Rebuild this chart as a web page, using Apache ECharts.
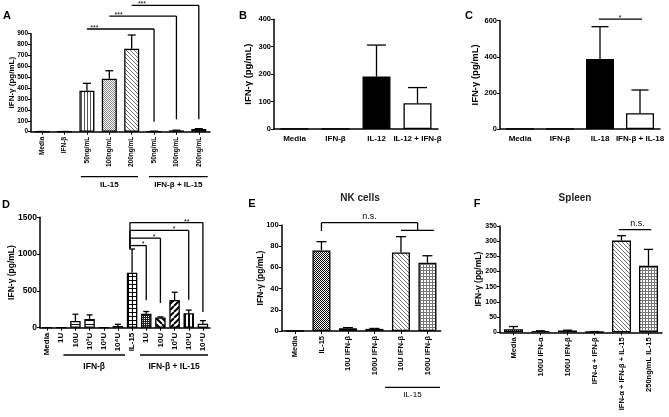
<!DOCTYPE html>
<html>
<head>
<meta charset="UTF-8">
<title>IFN-γ panels</title>
<script src="https://cdn.jsdelivr.net/npm/echarts@6/dist/echarts.min.js"></script>
<style>
  html, body { margin: 0; padding: 0; background: #fff; }
  #main { width: 669px; height: 417px; }
</style>
</head>
<body>
<div id="main"></div>
<script>
// ---- data ----
const catsA = ['Media', 'IFN-β', '50ng/mL', '100ng/mL', '200ng/mL', '50ng/mL', '100ng/mL', '200ng/mL'];
const meanA = [1, 1, 376, 487, 762, 3, 12, 24];
const errA  = [2, 2, 444, 560, 888, 5, 14, 28];
const sigA  = [[2, 5, 943, null, 92, '***', 2.33], [3, 6, 1062, null, 114, '***', 3.42], [4, 7, 1161, null, 114, '***', 4.46]];
const grpA  = [[1.73, 4.28, 'IL-15'], [4.77, 7.4, 'IFN-β + IL-15']];

const catsB = ['Media', 'IFN-β', 'IL-12', 'IL-12 + IFN-β'];
const meanB = [0, 0, 191, 94];
const errB  = [0, 0, 306, 151];

const catsC = ['Media', 'IFN-β', 'IL-18', 'IFN-β + IL-18'];
const meanC = [0, 0, 388, 87];
const errC  = [0, 0, 567, 216];
const sigC  = [[1.97, 3.05, 609, null, null, '*', 2.5]];

const catsD = ['Media', '1U', '10U', '10²U', '10³U', '10⁴U', 'IL-15', '1U', '10U', '10²U', '10³U', '10⁴U'];
const meanD = [0, 0, 92, 119, 0, 23, 748, 188, 138, 376, 197, 55];
const errD  = [0, 0, 183, 174, 0, 46, 1069, 220, 147, 482, 239, 96];
const sigD  = [[5.85, 11, 1428, 1080, 212, '**', 9.85], [5.85, 10, 1322, 1080, 381, '*', 8.96],
               [5.85, 8, 1217, 1080, 336, '*', 7.55], [5.85, 7, 1116, 1080, 372, '*', 6.77]];
const grpD  = [[1.15, 5.5, 'IFN-β'], [6.56, 11.36, 'IFN-β + IL-15']];

const catsE = ['Media', 'IL-15', '10U IFN-β', '100U IFN-β', '10U IFN-β', '100U IFN-β'];
const meanE = [0, 76, 2.5, 2, 74, 64.5];
const errE  = [0, 84.3, 3.2, 2.4, 89, 71];
const sigE  = [[1, 4.63, 102.2, 94.3, 95, 'n.s.', 2.81], [4, 5.25, 95, null, null, '', 0]];
const grpE  = [[3.4, 5.47, 'IL-15']];

const catsF = ['Media', '100U IFN-α', '100U IFN-β', 'IFN-α + IFN-β', 'IFN-α + IFN-β + IL-15', '250ng/mL IL-15'];
const meanF = [10, 4, 6, 2, 302, 219];
const errF  = [19, 5, 7, 2.5, 318, 273];
const sigF  = [[3.9, 5.1, 338, null, null, 'n.s.', 4.59]];

// ---- fills (patterns) ----
function pat(kind) {
  const sizes = { vline: 3, vbold: 4, hline: 4, diag: 4, dbold: 6, dboldR: 6, grid: 4, fgrid: 3, checker: 2, gchecker: 2, dots: 2 };
  const s = sizes[kind];
  const c = document.createElement('canvas');
  c.width = c.height = s;
  const g = c.getContext('2d');
  g.fillStyle = '#fff';
  g.fillRect(0, 0, s, s);
  g.fillStyle = '#000';
  g.strokeStyle = '#000';
  const diag = (w, col, up) => {
    g.strokeStyle = col; g.lineWidth = w; g.beginPath();
    for (let k = -1; k <= 1; k++) {
      if (up) { g.moveTo(k * s, s); g.lineTo(k * s + s, 0); }
      else { g.moveTo(k * s, 0); g.lineTo(k * s + s, s); }
    }
    g.stroke();
  };
  switch (kind) {
    case 'vline': g.fillStyle = '#555'; g.fillRect(0, 0, 1, s); break;
    case 'vbold': g.fillRect(0, 0, 2, s); break;
    case 'hline': g.fillRect(0, 0, s, 1); break;
    case 'diag': diag(1, '#777', false); break;
    case 'dbold': diag(2, '#000', false); break;
    case 'dboldR': diag(2, '#000', true); break;
    case 'grid': g.fillRect(0, 0, s, 1); g.fillRect(0, 0, 1, s); break;
    case 'fgrid': g.fillStyle = '#777'; g.fillRect(0, 0, s, 1); g.fillRect(0, 0, 1, s); break;
    case 'checker': g.fillRect(0, 0, 1, 1); g.fillRect(1, 1, 1, 1); break;
    case 'gchecker': g.fillStyle = '#888'; g.fillRect(0, 0, 1, 1); g.fillRect(1, 1, 1, 1); break;
    case 'dots': g.fillStyle = '#222'; g.fillRect(0, 0, s, s); g.fillStyle = '#fff'; g.fillRect(0, 0, 1, 1); break;
  }
  return { image: c, repeat: 'repeat' };
}
const W = '#fff', K = '#000';
const fillA = [W, W, pat('vline'), pat('gchecker'), pat('diag'), pat('diag'), pat('diag'), pat('diag')];
const fillB = [W, W, K, W];
const fillC = [W, W, K, W];
const fillD = [W, W, pat('hline'), pat('hline'), W, pat('hline'), pat('grid'), pat('dots'), pat('dbold'), pat('dboldR'), pat('vbold'), pat('hline')];
const fillE = [W, pat('checker'), pat('dots'), pat('dots'), pat('diag'), pat('fgrid')];
const fillF = [pat('checker'), pat('hline'), pat('dots'), pat('hline'), pat('diag'), pat('fgrid')];

// ---- layout / style ----
const FONT = '"Liberation Sans", Arial, sans-serif';
const panels = [
  { grid: { left: 31, top: 33.7, width: 179, height: 98 }, cats: catsA, mean: meanA, err: errA, fill: fillA, max: 900, interval: 100,
    rot: 90, ticks: true, tickFs: 6.5, labFs: 6.5, nameFs: 8, nameGap: 15, barW: 15, capW: 8, sig: sigA, grp: grpA, lineOff: 45, textOff: 53, grpFs: 8 },
  { grid: { left: 274, top: 19.3, width: 164, height: 109.7 }, cats: catsB, mean: meanB, err: errB, fill: fillB, max: 400, interval: 100,
    rot: 0, ticks: false, tickFs: 7.5, labFs: 8, nameFs: 9.5, nameGap: 21, barW: 28, capW: 19, sig: [], grp: [] },
  { grid: { left: 500, top: 20.7, width: 160, height: 108.3 }, cats: catsC, mean: meanC, err: errC, fill: fillC, max: 600, interval: 200,
    rot: 0, ticks: false, tickFs: 7.5, labFs: 8, nameFs: 9.5, nameGap: 20, barW: 28, capW: 17, sig: sigC, grp: [] },
  { grid: { left: 40, top: 217.3, width: 170, height: 110.4 }, cats: catsD, mean: meanD, err: errD, fill: fillD, max: 1500, interval: 500,
    rot: 90, ticks: true, tickFs: 8.5, labFs: 8, nameFs: 8.5, nameGap: 24, barW: 10.5, capW: 6, sig: sigD, grp: grpD, lineOff: 27.3, textOff: 38.5, grpFs: 8.5 },
  { grid: { left: 281.7, top: 225, width: 159, height: 106 }, cats: catsE, mean: meanE, err: errE, fill: fillE, max: 100, interval: 20,
    rot: 90, ticks: true, tickFs: 7.5, labFs: 7.5, nameFs: 8.5, nameGap: 17, barW: 18, capW: 10, sig: sigE, grp: grpE, lineOff: 56.3, textOff: 63.5, grpFs: 8, grpW: 'normal' },
  { grid: { left: 500, top: 226, width: 162, height: 106.3 }, cats: catsF, mean: meanF, err: errF, fill: fillF, max: 350, interval: 50,
    rot: 90, ticks: true, tickFs: 7, labFs: 7.5, nameFs: 8.5, nameGap: 16.5, barW: 19, capW: 9, sig: sigF, grp: [] }
];

const grids = [], xAxes = [], yAxes = [], series = [];
panels.forEach((p, i) => {
  grids.push(Object.assign({ outerBoundsMode: 'none', containLabel: false }, p.grid));
  xAxes.push({
    gridIndex: i, type: 'category', data: p.cats,
    axisLine: { lineStyle: { color: '#000', width: 1.5 } },
    axisTick: { show: p.ticks, alignWithLabel: true, length: 3, lineStyle: { color: '#000', width: 1 } },
    axisLabel: { rotate: p.rot, interval: 0, color: '#000', fontSize: p.labFs, fontWeight: 'bold', fontFamily: FONT, margin: p.rot ? 5 : 6 },
    splitLine: { show: false }
  });
  yAxes.push({
    gridIndex: i, type: 'value', min: 0, max: p.max, interval: p.interval,
    name: 'IFN-γ (pg/mL)', nameLocation: 'middle', nameGap: p.nameGap, nameMoveOverlap: false,
    nameTextStyle: { color: '#000', fontSize: p.nameFs, fontWeight: 'bold', fontFamily: FONT },
    axisLine: { show: true, lineStyle: { color: '#000', width: 1.5 } },
    axisTick: { show: true, length: 3, lineStyle: { color: '#000', width: 1 } },
    axisLabel: { color: '#000', fontSize: p.tickFs, fontWeight: 'bold', fontFamily: FONT, margin: 3, formatter: v => String(v) },
    splitLine: { show: false }
  });
  series.push({
    type: 'bar', xAxisIndex: i, yAxisIndex: i, barWidth: p.barW, silent: true,
    itemStyle: { borderColor: '#000', borderWidth: 1.3 },
    data: p.mean.map((v, j) => ({ value: v, itemStyle: { color: p.fill[j] } }))
  });
  // upper error bars
  series.push({
    type: 'custom', xAxisIndex: i, yAxisIndex: i, silent: true, z: 3,
    data: p.mean.map((m, j) => [j, m, p.err[j]]),
    renderItem: (params, api) => {
      const m = api.value(1), e = api.value(2);
      if (!(e > m)) return;
      const a = api.coord([api.value(0), m]);
      const b = api.coord([api.value(0), e]);
      const st = { stroke: '#000', lineWidth: 1.3 };
      return { type: 'group', children: [
        { type: 'line', shape: { x1: a[0], y1: a[1], x2: b[0], y2: b[1] }, style: st },
        { type: 'line', shape: { x1: b[0] - p.capW / 2, y1: b[1], x2: b[0] + p.capW / 2, y2: b[1] }, style: st }
      ] };
    }
  });
  // significance brackets and group lines
  const items = p.sig.map(s => ({ k: 's', d: s })).concat(p.grp.map(gr => ({ k: 'g', d: gr })));
  if (items.length) {
    series.push({
      type: 'custom', xAxisIndex: i, yAxisIndex: i, silent: true, clip: false, z: 4,
      data: items.map(() => [0, 0]),
      renderItem: (params, api) => {
        const it = items[params.dataIndex];
        const band = api.size([1, 0])[0];
        const x0 = api.coord([0, 0])[0] - band / 2;
        const xAt = t => x0 + (t + 0.5) * band;
        const yAt = v => api.coord([0, v])[1];
        const st = { stroke: '#000', lineWidth: 1.3 };
        const ch = [];
        if (it.k === 's') {
          const [x1, x2, yl, yL, yR, lab, lx] = it.d;
          const y = yAt(yl);
          ch.push({ type: 'line', shape: { x1: xAt(x1), y1: y, x2: xAt(x2), y2: y }, style: st });
          if (yL != null) ch.push({ type: 'line', shape: { x1: xAt(x1), y1: y, x2: xAt(x1), y2: yAt(yL) }, style: st });
          if (yR != null) ch.push({ type: 'line', shape: { x1: xAt(x2), y1: y, x2: xAt(x2), y2: yAt(yR) }, style: st });
          if (lab) {
            const ns = lab === 'n.s.';
            ch.push({ type: 'text', style: { text: lab, x: xAt(lx), y: y + (ns ? -1.5 : 2.5), align: 'center', verticalAlign: 'bottom',
              font: (ns ? 'normal 9px ' : 'normal 7px ') + FONT, fill: '#000' } });
          }
        } else {
          const [x1, x2, lab] = it.d;
          const y0 = yAt(0);
          ch.push({ type: 'line', shape: { x1: xAt(x1), y1: y0 + p.lineOff, x2: xAt(x2), y2: y0 + p.lineOff }, style: st });
          ch.push({ type: 'text', style: { text: lab, x: (xAt(x1) + xAt(x2)) / 2, y: y0 + p.textOff, align: 'center', verticalAlign: 'middle',
            font: (p.grpW || 'bold') + ' ' + p.grpFs + 'px ' + FONT, fill: '#000' } });
        }
        return { type: 'group', children: ch };
      }
    });
  }
});

const letter = (t, x, y) => ({ type: 'text', x: x, y: y, style: { text: t, align: 'center', verticalAlign: 'middle', font: 'bold 11px ' + FONT, fill: '#000' } });

const chart = echarts.init(document.getElementById('main'), null, { renderer: 'canvas' });
chart.setOption({
  animation: false,
  backgroundColor: '#fff',
  grid: grids,
  xAxis: xAxes,
  yAxis: yAxes,
  series: series,
  graphic: [
    letter('A', 7, 16), letter('B', 243, 16), letter('C', 469, 16),
    letter('D', 6, 205), letter('E', 252, 204), letter('F', 477, 204),
    { type: 'text', x: 360, y: 198, style: { text: 'NK cells', align: 'center', verticalAlign: 'middle', font: 'bold 10px ' + FONT, fill: '#222' } },
    { type: 'text', x: 575, y: 198, style: { text: 'Spleen', align: 'center', verticalAlign: 'middle', font: 'bold 10px ' + FONT, fill: '#222' } }
  ]
});
</script>
</body>
</html>
